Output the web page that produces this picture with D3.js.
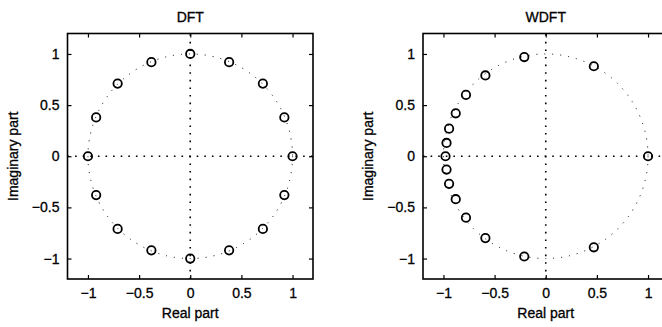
<!DOCTYPE html>
<html>
<head>
<meta charset="utf-8">
<script src="https://cdn.jsdelivr.net/npm/d3@7"></script>
<style>
  body { margin: 0; background: #fff; }
  text { font-family: "Liberation Sans", Arial, sans-serif; fill: #000; stroke: #000; stroke-width: 0.3px; }
</style>
</head>
<body>
<script>
// values (real, imaginary)
var dftRe = [1, 0.92, 0.71, 0.38, 0, -0.38, -0.71, -0.92, -1, -0.92, -0.71, -0.38, 0, 0.38, 0.71, 0.92];
var dftIm = [0, 0.38, 0.71, 0.92, 1, 0.92, 0.71, 0.38, 0, -0.38, -0.71, -0.92, -1, -0.92, -0.71, -0.38];

var wdftRe = [1, 0.47, -0.21, -0.59, -0.78, -0.88, -0.945, -0.97, -0.98, -0.97, -0.945, -0.88, -0.78, -0.59, -0.21, 0.47];
var wdftIm = [0, 0.88, 0.97, 0.79, 0.6, 0.42, 0.27, 0.13, 0, -0.13, -0.27, -0.42, -0.6, -0.8, -0.98, -0.89];

var tickVals = [-1, -0.5, 0, 0.5, 1];
var tickText = ["\u22121", "\u22120.5", "0", "0.5", "1"];

var W = 662, H = 327;
var svg = d3.select("body").append("svg")
    .attr("width", W)
    .attr("height", H);

function drawPlot(left, title, re, im) {
  var top = 33.5, size = 245.5;
  var x = d3.scaleLinear().domain([-1.2, 1.2]).range([left, left + size]);
  var y = d3.scaleLinear().domain([-1.2, 1.2]).range([top + size, top]);

  var g = svg.append("g");

  // unit circle (dotted)
  g.append("ellipse")
    .attr("cx", x(0)).attr("cy", y(0))
    .attr("rx", x(1) - x(0)).attr("ry", y(0) - y(1))
    .attr("fill", "none")
    .attr("stroke", "#000")
    .attr("stroke-width", 1)
    .attr("stroke-dasharray", "1,7");

  // zero lines
  g.append("line")
    .attr("x1", x(-1.2)).attr("x2", x(1.2))
    .attr("y1", y(0)).attr("y2", y(0))
    .attr("stroke", "#000").attr("stroke-width", 1.6)
    .attr("stroke-dasharray", "1.6,6");
  g.append("line")
    .attr("x1", x(0)).attr("x2", x(0))
    .attr("y1", y(-1.2)).attr("y2", y(1.2))
    .attr("stroke", "#000").attr("stroke-width", 1.6)
    .attr("stroke-dasharray", "1.6,6");

  // axes with inward ticks on all four sides
  var fmt = function(d) { return tickText[tickVals.indexOf(d)]; };
  g.append("g")
    .attr("transform", "translate(0," + (top + size) + ")")
    .call(d3.axisBottom(x).tickValues(tickVals).tickFormat(fmt).tickSizeInner(-4).tickSizeOuter(0).tickPadding(9))
    .call(function(a) { a.select(".domain").remove(); });
  g.append("g")
    .attr("transform", "translate(" + left + ",0)")
    .call(d3.axisLeft(y).tickValues(tickVals).tickFormat(fmt).tickSizeInner(-4).tickSizeOuter(0).tickPadding(8))
    .call(function(a) { a.select(".domain").remove(); });
  g.append("g")
    .attr("transform", "translate(0," + top + ")")
    .call(d3.axisTop(x).tickValues(tickVals).tickFormat("").tickSizeInner(-4).tickSizeOuter(0))
    .call(function(a) { a.select(".domain").remove(); });
  g.append("g")
    .attr("transform", "translate(" + (left + size) + ",0)")
    .call(d3.axisRight(y).tickValues(tickVals).tickFormat("").tickSizeInner(-4).tickSizeOuter(0))
    .call(function(a) { a.select(".domain").remove(); });

  g.selectAll(".tick line").attr("stroke", "#000").attr("stroke-width", 1.2);
  g.selectAll(".tick text")
    .style("font-family", "'Liberation Sans', Arial, sans-serif")
    .style("font-size", "14px")
    .attr("fill", "#000");

  // box
  g.append("rect")
    .attr("x", left).attr("y", top)
    .attr("width", size).attr("height", size)
    .attr("fill", "none")
    .attr("stroke", "#000")
    .attr("stroke-width", 1.6);

  // points
  g.selectAll(".pt")
    .data(re.map(function(r, i) { return [r, im[i]]; }))
    .enter().append("circle")
    .attr("class", "pt")
    .attr("cx", function(d) { return x(d[0]); })
    .attr("cy", function(d) { return y(d[1]); })
    .attr("r", 4.2)
    .attr("fill", "none")
    .attr("stroke", "#000")
    .attr("stroke-width", 1.8);

  // labels
  g.append("text")
    .attr("x", left + size / 2).attr("y", 22)
    .attr("text-anchor", "middle")
    .style("font-size", "14px")
    .text(title);
  g.append("text")
    .attr("x", left + size / 2).attr("y", 318)
    .attr("text-anchor", "middle")
    .style("font-size", "14px")
    .text("Real part");
  g.append("text")
    .attr("transform", "translate(" + (left - 50) + "," + (top + size / 2) + ") rotate(-90)")
    .attr("text-anchor", "middle")
    .style("font-size", "14px")
    .text("Imaginary part");
}

drawPlot(67.5, "DFT", dftRe, dftIm);
drawPlot(423, "WDFT", wdftRe, wdftIm);
</script>
</body>
</html>
